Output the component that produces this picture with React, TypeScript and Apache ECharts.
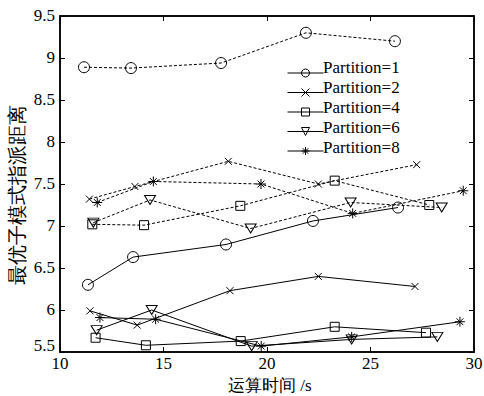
import React, { useEffect, useRef } from "react";
import * as echarts from "echarts";

const legendNames = ["Partition=1", "Partition=2", "Partition=4", "Partition=6", "Partition=8"];
const xTicks = [10, 15, 20, 25, 30];
const yTicks = [5.5, 6, 6.5, 7, 7.5, 8, 8.5, 9, 9.5];
const yTickLabels = ["5.5", "6", "6.5", "7", "7.5", "8", "8.5", "9", "9.5"];
const xTitle = "运算时间 /s";
const yTitle = "最优子模式指派距离";

// dashed curves
const p1DashX = [11.16, 13.43, 17.78, 21.88, 26.18];
const p1DashY = [8.89, 8.88, 8.94, 9.30, 9.20];
const p2DashX = [11.42, 13.62, 18.13, 22.48, 27.23];
const p2DashY = [7.32, 7.47, 7.77, 7.50, 7.73];
const p4DashX = [11.56, 14.06, 18.71, 23.27, 27.84];
const p4DashY = [7.02, 7.01, 7.24, 7.54, 7.25];
const p6DashX = [11.61, 14.35, 19.21, 24.04, 28.44];
const p6DashY = [7.04, 7.31, 6.97, 7.28, 7.22];
const p8DashX = [11.80, 14.51, 19.71, 24.14, 29.48];
const p8DashY = [7.28, 7.53, 7.50, 7.15, 7.42];

// solid curves
const p1SolidX = [11.35, 13.53, 18.02, 22.22, 26.33];
const p1SolidY = [6.30, 6.63, 6.78, 7.06, 7.22];
const p2SolidX = [11.45, 13.73, 18.21, 22.48, 27.15];
const p2SolidY = [5.99, 5.82, 6.23, 6.40, 6.28];
const p4SolidX = [11.72, 14.15, 18.73, 23.27, 27.68];
const p4SolidY = [5.67, 5.58, 5.63, 5.80, 5.73];
const p6SolidX = [11.77, 14.43, 19.26, 24.09, 28.23];
const p6SolidY = [5.76, 6.00, 5.57, 5.65, 5.68];
const p8SolidX = [11.93, 14.62, 19.72, 24.09, 29.32];
const p8SolidY = [5.91, 5.89, 5.57, 5.68, 5.86];

const SYM_X = "path://M0,0L10,10M10,0L0,10";
const SYM_TRI = "path://M0,0L10,0L5,9Z";
const SYM_STAR = "path://M5,0L5,10M0,5L10,5M1.6,1.6L8.4,8.4M8.4,1.6L1.6,8.4";

const symbols: any[] = [
  { symbol: "circle", size: 11 },
  { symbol: SYM_X, size: 7 },
  { symbol: "rect", size: 9 },
  { symbol: SYM_TRI, size: [11, 9] },
  { symbol: SYM_STAR, size: 10 },
];

const dashSets = [
  [p1DashX, p1DashY],
  [p2DashX, p2DashY],
  [p4DashX, p4DashY],
  [p6DashX, p6DashY],
  [p8DashX, p8DashY],
];
const solidSets = [
  [p1SolidX, p1SolidY],
  [p2SolidX, p2SolidY],
  [p4SolidX, p4SolidY],
  [p6SolidX, p6SolidY],
  [p8SolidX, p8SolidY],
];

const FAMILY = "Liberation Serif";
const FS = 17;
const W = 484;

function txtStyle(text: string, size: number, extra: any = {}) {
  return {
    text,
    fontFamily: FAMILY,
    fontSize: size,
    font: size + "px '" + FAMILY + "'",
    fill: "#000",
    ...extra,
  };
}

function makeSeries(name: string, xs: number[], ys: number[], idx: number, dashed: boolean) {
  return {
    name,
    type: "line",
    data: xs.map((x, i) => [x, ys[i]]),
    symbol: symbols[idx].symbol,
    symbolSize: symbols[idx].size,
    showAllSymbol: true,
    color: "#000",
    lineStyle: { color: "#000", width: 1, type: dashed ? [3, 2] : "solid" },
    itemStyle: { color: "rgba(0,0,0,0)", borderColor: "#000", borderWidth: 1 },
    z: dashed ? 2 : 3,
  };
}

const LEG_LEFT = 282;
const LEG_TOP = 63;
const LEG_ROW = 20;

export default function App() {
  const ref = useRef<HTMLDivElement>(null);
  useEffect(() => {
    const chart = echarts.init(ref.current!, undefined, { renderer: "svg" });
    const series: any[] = [];
    solidSets.forEach((s, i) => series.push(makeSeries(legendNames[i], s[0], s[1], i, false)));
    dashSets.forEach((s, i) => series.push(makeSeries("dash" + i, s[0], s[1], i, true)));
    const axisLine = { show: true, lineStyle: { color: "#000", width: 1.5 } };
    const tick = { inside: true, length: 5, lineStyle: { color: "#000" } };
    const base: any = {
      animation: false,
      backgroundColor: "#fff",
      textStyle: { fontFamily: FAMILY },
      grid: { left: 60, right: 10, top: 16, bottom: 44, show: true, borderColor: "#000", borderWidth: 1.5 },
      legend: {
        data: legendNames,
        orient: "vertical",
        left: LEG_LEFT,
        top: LEG_TOP,
        itemWidth: 36,
        itemHeight: 10,
        itemGap: LEG_ROW - 10,
        itemStyle: { color: "rgba(0,0,0,0)", borderColor: "#000", borderWidth: 1 },
        lineStyle: { width: 1, color: "#000" },
        formatter: () => "",
        textStyle: { fontSize: 10 },
      },
      xAxis: [
        { type: "value", min: 10, max: 30, interval: 5, axisLine, axisTick: tick, axisLabel: { show: false }, splitLine: { show: false } },
        { type: "value", position: "top", min: 10, max: 30, interval: 5, axisLine, axisTick: tick, axisLabel: { show: false }, splitLine: { show: false } },
      ],
      yAxis: [
        { type: "value", min: 5.5, max: 9.5, interval: 0.5, axisLine, axisTick: tick, axisLabel: { show: false }, splitLine: { show: false } },
        { type: "value", position: "right", min: 5.5, max: 9.5, interval: 0.5, axisLine, axisTick: tick, axisLabel: { show: false }, splitLine: { show: false } },
      ],
      series,
    };
    chart.setOption(base);

    const graphics: any[] = [];
    const x0 = chart.convertToPixel({ xAxisIndex: 0 }, 10) as number;
    const x1 = chart.convertToPixel({ xAxisIndex: 0 }, 30) as number;
    const yBot = chart.convertToPixel({ yAxisIndex: 0 }, 5.5) as number;
    const yTop = chart.convertToPixel({ yAxisIndex: 0 }, 9.5) as number;
    xTicks.forEach((v) => {
      const px = chart.convertToPixel({ xAxisIndex: 0 }, v) as number;
      const s = String(v);
      graphics.push({
        type: "text",
        left: px - (s.length * FS * 0.5) / 2,
        top: yBot + 3,
        style: txtStyle(s, FS),
      });
    });
    yTicks.forEach((v, i) => {
      const py = chart.convertToPixel({ yAxisIndex: 0 }, v) as number;
      graphics.push({
        type: "text",
        right: W - (x0 - 5),
        top: (i === 0 ? py - 6 : py) - 9,
        style: txtStyle(yTickLabels[i], FS),
      });
    });
    graphics.push({
      type: "text",
      left: (x0 + x1) / 2 + 4 - 43,
      top: yBot + 25,
      style: txtStyle(xTitle, FS),
    });
    graphics.push({
      type: "text",
      x: 17,
      y: (yTop + yBot) / 2 + 11,
      rotation: Math.PI / 2,
      style: txtStyle(yTitle, 20, { align: "center", verticalAlign: "middle" }),
    });
    legendNames.forEach((n, i) => {
      graphics.push({
        type: "text",
        left: LEG_LEFT + 36 + 5,
        top: LEG_TOP + 5 + i * LEG_ROW - 9,
        style: txtStyle(n, FS),
      });
    });
    chart.setOption({ ...base, graphic: graphics }, { notMerge: true });
    return () => chart.dispose();
  }, []);
  return <div ref={ref} style={{ width: 484, height: 396, position: "absolute", left: 0, top: 0 }} />;
}
